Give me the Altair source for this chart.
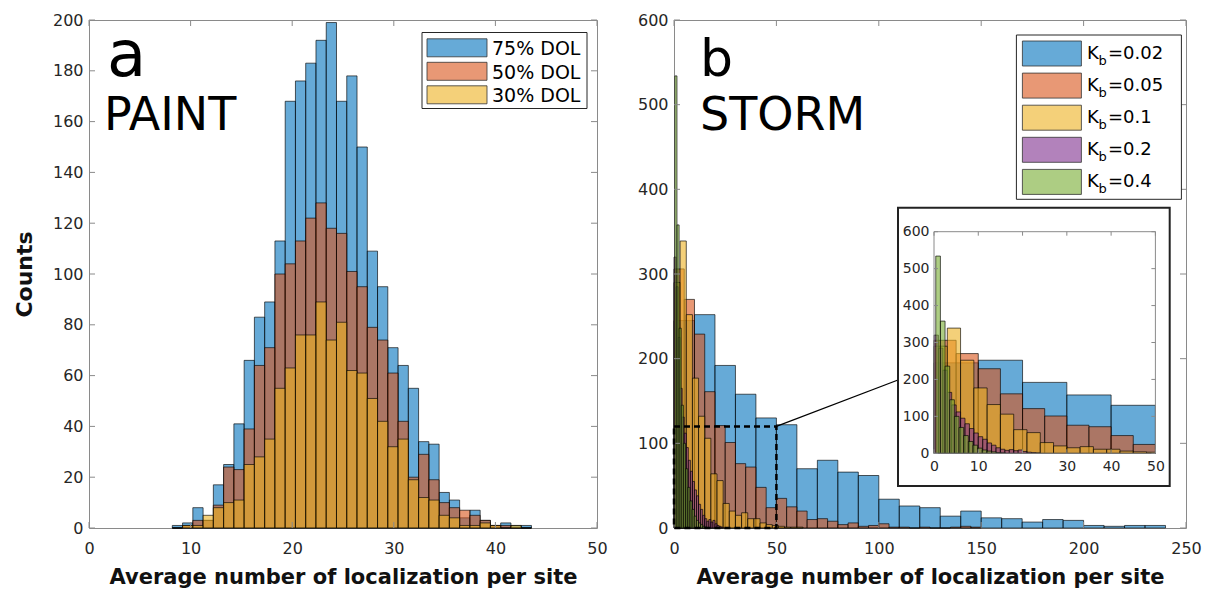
import altair as alt
import pandas as pd
import numpy as np

FONT = "DejaVu Sans"
FRAME = "#8a8a8a"
TXT = "#262626"

# ---------------- data: panel a (PAINT) ----------------
a_bin_start = 8.2
a_bin_width = 1.01
dol_labels = ["75% DOL", "50% DOL", "30% DOL"]
dol75 = [1, 2, 8, 3, 17, 25, 41, 66, 83, 89, 113, 168, 176, 183, 192, 199, 168, 178,
         150, 109, 95, 71, 64, 55, 34, 33, 14, 11, 4, 7, 3, 1, 2, 1, 1]
dol50 = [0, 1, 3, 3, 9, 24, 23, 39, 64, 71, 100, 104, 113, 122, 128, 118, 116, 101,
         95, 79, 74, 61, 42, 20, 29, 19, 10, 8, 7, 5, 3, 1, 1, 0, 0]
dol30 = [0, 1, 1, 5, 8, 10, 11, 25, 28, 35, 55, 63, 76, 76, 89, 74, 81, 62,
         61, 51, 42, 32, 35, 19, 12, 11, 5, 4, 1, 1, 2, 1, 0, 1, 0]
a_xticks = [0, 10, 20, 30, 40, 50]
a_yticks = [0, 20, 40, 60, 80, 100, 120, 140, 160, 180, 200]

# ---------------- data: panel b (STORM) ----------------
kb_labels = ["0.02", "0.05", "0.1", "0.2", "0.4"]
kb002 = [245, 252, 192, 158, 130, 122, 70, 80, 66, 62, 34, 26, 24, 14, 20, 12, 11, 7,
         10, 9, 3, 2, 3, 3]
kb005 = [306, 270, 229, 161, 121, 101, 76, 72, 48, 24, 35, 25, 20, 10, 11, 8, 4, 6,
         2, 3, 5, 1, 1, 0, 1, 0, 0, 1, 2, 1]
kb01 = [290, 339, 252, 177, 132, 106, 64, 56, 29, 20, 15, 18, 11, 11, 6, 4, 3, 2, 1, 1, 1]
kb02 = [320, 285, 225, 165, 131, 112, 95, 80, 67, 55, 45, 38, 28, 22, 15, 11, 8, 10,
        7, 9, 5, 3, 2, 1]
kb04 = [534, 358, 236, 145, 100, 70, 48, 32, 22, 14, 9, 6, 4, 2, 1]
kb_series = [kb002, kb005, kb01, kb02, kb04]
kb_bin_start = [0, 0, 0, 0, 0.4]
kb_bin_width = [10, 5, 3, 1, 1.05]
b_xticks = [0, 50, 100, 150, 200, 250]
b_yticks = [0, 100, 200, 300, 400, 500, 600]
inset_xticks = [0, 10, 20, 30, 40, 50]
inset_yticks = [0, 100, 200, 300, 400, 500, 600]
zoom_box = {"x": [0], "x2": [50], "y": [0], "y2": [120]}

COLORS_A = ["#0072BD", "#D95319", "#EDB120"]
COLORS_B = ["#0072BD", "#D95319", "#EDB120", "#7E2F8E", "#77AC30"]

ONE = pd.DataFrame({"k": [1]})


def hist_df(counts, start, width, xmax=None):
    edges = start + width * np.arange(len(counts) + 1)
    df = pd.DataFrame({"x0": edges[:-1], "x1": edges[1:], "c": counts, "z": 0})
    if xmax is not None:
        df = df[df["x0"] < xmax]
    return df


def bars(df, color, xs, ys, xaxis, yaxis):
    return alt.Chart(df).mark_rect(
        fill=color, fillOpacity=0.6, stroke="black", strokeWidth=0.8, strokeOpacity=0.8
    ).encode(
        x=alt.X("x0:Q", scale=xs, axis=xaxis), x2="x1:Q",
        y=alt.Y("c:Q", scale=ys, axis=yaxis), y2="z:Q",
    )


def tick_layers(xvals, yvals, xs, ys, xaxis, yaxis, x0, x1, y0, y1, L, color=FRAME):
    dx = pd.DataFrame({"t": xvals})
    dy = pd.DataFrame({"t": yvals})
    m = dict(color=color, strokeWidth=1)
    return [
        alt.Chart(dx).mark_rule(**m).encode(x=alt.X("t:Q", scale=xs, axis=xaxis),
                                             y=alt.value(y1), y2=alt.value(y1 - L)),
        alt.Chart(dx).mark_rule(**m).encode(x=alt.X("t:Q", scale=xs, axis=xaxis),
                                             y=alt.value(y0), y2=alt.value(y0 + L)),
        alt.Chart(dy).mark_rule(**m).encode(y=alt.Y("t:Q", scale=ys, axis=yaxis),
                                             x=alt.value(x0), x2=alt.value(x0 + L)),
        alt.Chart(dy).mark_rule(**m).encode(y=alt.Y("t:Q", scale=ys, axis=yaxis),
                                             x=alt.value(x1), x2=alt.value(x1 - L)),
    ]


def label(text, x, y, size, weight="normal", color="black"):
    return alt.Chart(ONE).mark_text(
        text=text, font=FONT, fontSize=size, fontWeight=weight, color=color,
        align="left", baseline="alphabetic"
    ).encode(x=alt.value(x), y=alt.value(y))


def box(x, x2, y, y2, fill="white", stroke=TXT, sw=1, fo=1.0):
    return alt.Chart(ONE).mark_rect(
        fill=fill, fillOpacity=fo, stroke=stroke, strokeWidth=sw
    ).encode(x=alt.value(x), x2=alt.value(x2), y=alt.value(y), y2=alt.value(y2))


XT = "Average number of localization per site"

# ---------------- panel a ----------------
WA, H = 508, 508
xa = alt.Scale(domain=[0, 50], nice=False, zero=False, padding=0)
ya = alt.Scale(domain=[0, 200], nice=False, padding=0)
axa_x = alt.Axis(values=a_xticks, title=XT, labelPadding=12, titlePadding=10, labelFlush=False)
axa_y = alt.Axis(values=a_yticks, title="Counts", labelPadding=6, titlePadding=16,
                 titleFontSize=22, labelFlush=False)

layers_a = []
for cnt, col in zip([dol75, dol50, dol30], COLORS_A):
    layers_a.append(bars(hist_df(cnt, a_bin_start, a_bin_width), col, xa, ya, axa_x, axa_y))
layers_a += tick_layers(a_xticks, a_yticks, xa, ya, axa_x, axa_y, 0, WA, 0, H, 6)
layers_a += [label("a", 18, 56, 64), label("PAINT", 15, 110, 46)]
layers_a.append(box(333, 498, 12.5, 88.5))
for i, (lab, col) in enumerate(zip(dol_labels, COLORS_A)):
    yc = 27.8 + 23.5 * i
    layers_a.append(box(338, 398, yc - 9, yc + 9, fill=col, stroke="#333", sw=0.8, fo=0.6))
    layers_a.append(label(lab, 403, yc + 7.5, 19, color="black"))

panel_a = alt.layer(*layers_a).properties(width=WA, height=H)

# ---------------- panel b ----------------
WB = 512
xb = alt.Scale(domain=[0, 250], nice=False, zero=False, padding=0)
yb = alt.Scale(domain=[0, 600], nice=False, padding=0)
axb_x = alt.Axis(values=b_xticks, title=XT, labelPadding=12, titlePadding=10, labelFlush=False)
axb_y = alt.Axis(values=b_yticks, title=None, labelPadding=6, labelFlush=False)

main_b = []
for cnt, st, w, col in zip(kb_series, kb_bin_start, kb_bin_width, COLORS_B):
    main_b.append(bars(hist_df(cnt, st, w), col, xb, yb, axb_x, axb_y))
main_b += tick_layers(b_xticks, b_yticks, xb, yb, axb_x, axb_y, 0, WB, 0, H, 6)
main_b.append(
    alt.Chart(pd.DataFrame(zoom_box)).mark_rect(
        fill="white", fillOpacity=0, stroke="black", strokeWidth=2.5, strokeDash=[6, 4]
    ).encode(x=alt.X("x:Q", scale=xb, axis=axb_x), x2="x2:Q",
             y=alt.Y("y:Q", scale=yb, axis=axb_y), y2="y2:Q")
)
main_b.append(
    alt.Chart(pd.DataFrame(zoom_box)).mark_rule(color="black", strokeWidth=1.3).encode(
        x=alt.X("x2:Q", scale=xb, axis=axb_x), y=alt.Y("y2:Q", scale=yb, axis=axb_y),
        x2=alt.value(224), y2=alt.value(360))
)
main_b += [label("b", 26, 56, 52), label("STORM", 26, 110, 46)]
main_b.append(box(342.4, 507.4, 15, 179.3))
for i, (lab, col) in enumerate(zip(kb_labels, COLORS_B)):
    yc = 33.5 + 32.1 * i
    main_b.append(box(348.4, 407.4, yc - 12.5, yc + 12.5, fill=col, stroke="#333", sw=0.8, fo=0.6))
    main_b.append(label("K", 413, yc + 5, 18))
    main_b.append(label("b", 424.5, yc + 11, 13))
    main_b.append(label("=" + lab, 434, yc + 5, 18))

# inset
IX0, IX1, IY0, IY1 = 260, 481.4, 211.7, 433.3
xi = alt.Scale(domain=[0, 50], range=[IX0, IX1], nice=False, zero=False, clamp=True, padding=0)
yi = alt.Scale(domain=[0, 600], range=[IY1, IY0], nice=False, padding=0)
axi_x = alt.Axis(values=inset_xticks, title=None, orient="bottom", offset=-(H - IY1),
                 labelFontSize=14, labelPadding=6, zindex=1, labelFlush=False)
axi_y = alt.Axis(values=inset_yticks, title=None, orient="left", offset=-IX0,
                 labelFontSize=14, labelPadding=5, zindex=1, labelFlush=False)

inset_b = [box(224, 495.7, 187.7, 466, fill="white", stroke="#222", sw=2)]
for cnt, st, w, col in zip(kb_series, kb_bin_start, kb_bin_width, COLORS_B):
    inset_b.append(bars(hist_df(cnt, st, w, xmax=50), col, xi, yi, axi_x, axi_y))
inset_b.append(
    alt.Chart(pd.DataFrame({"x": [0], "x2": [50], "y": [0], "y2": [600]})).mark_rect(
        fill="white", fillOpacity=0, stroke=FRAME, strokeWidth=1
    ).encode(x=alt.X("x:Q", scale=xi, axis=axi_x), x2="x2:Q",
             y=alt.Y("y:Q", scale=yi, axis=axi_y), y2="y2:Q")
)
inset_b += tick_layers(inset_xticks, inset_yticks, xi, yi, axi_x, axi_y,
                       IX0, IX1, IY0, IY1, 4)

panel_b = alt.layer(alt.layer(*main_b), alt.layer(*inset_b)).resolve_scale(
    x="independent", y="independent"
).properties(width=WB, height=H)

chart = alt.hconcat(panel_a, panel_b, spacing=28).properties(
    padding={"left": 4, "top": 3, "right": 0, "bottom": 0}
).configure_view(stroke=FRAME, strokeWidth=1).configure_axis(
    labelFont=FONT, titleFont=FONT, labelFontSize=16, titleFontSize=21,
    titleFontWeight="bold", labelColor=TXT, titleColor="#111",
    domain=False, ticks=False, grid=False
)

chart.save("out.html", embed_options={"renderer": "svg", "actions": False})
